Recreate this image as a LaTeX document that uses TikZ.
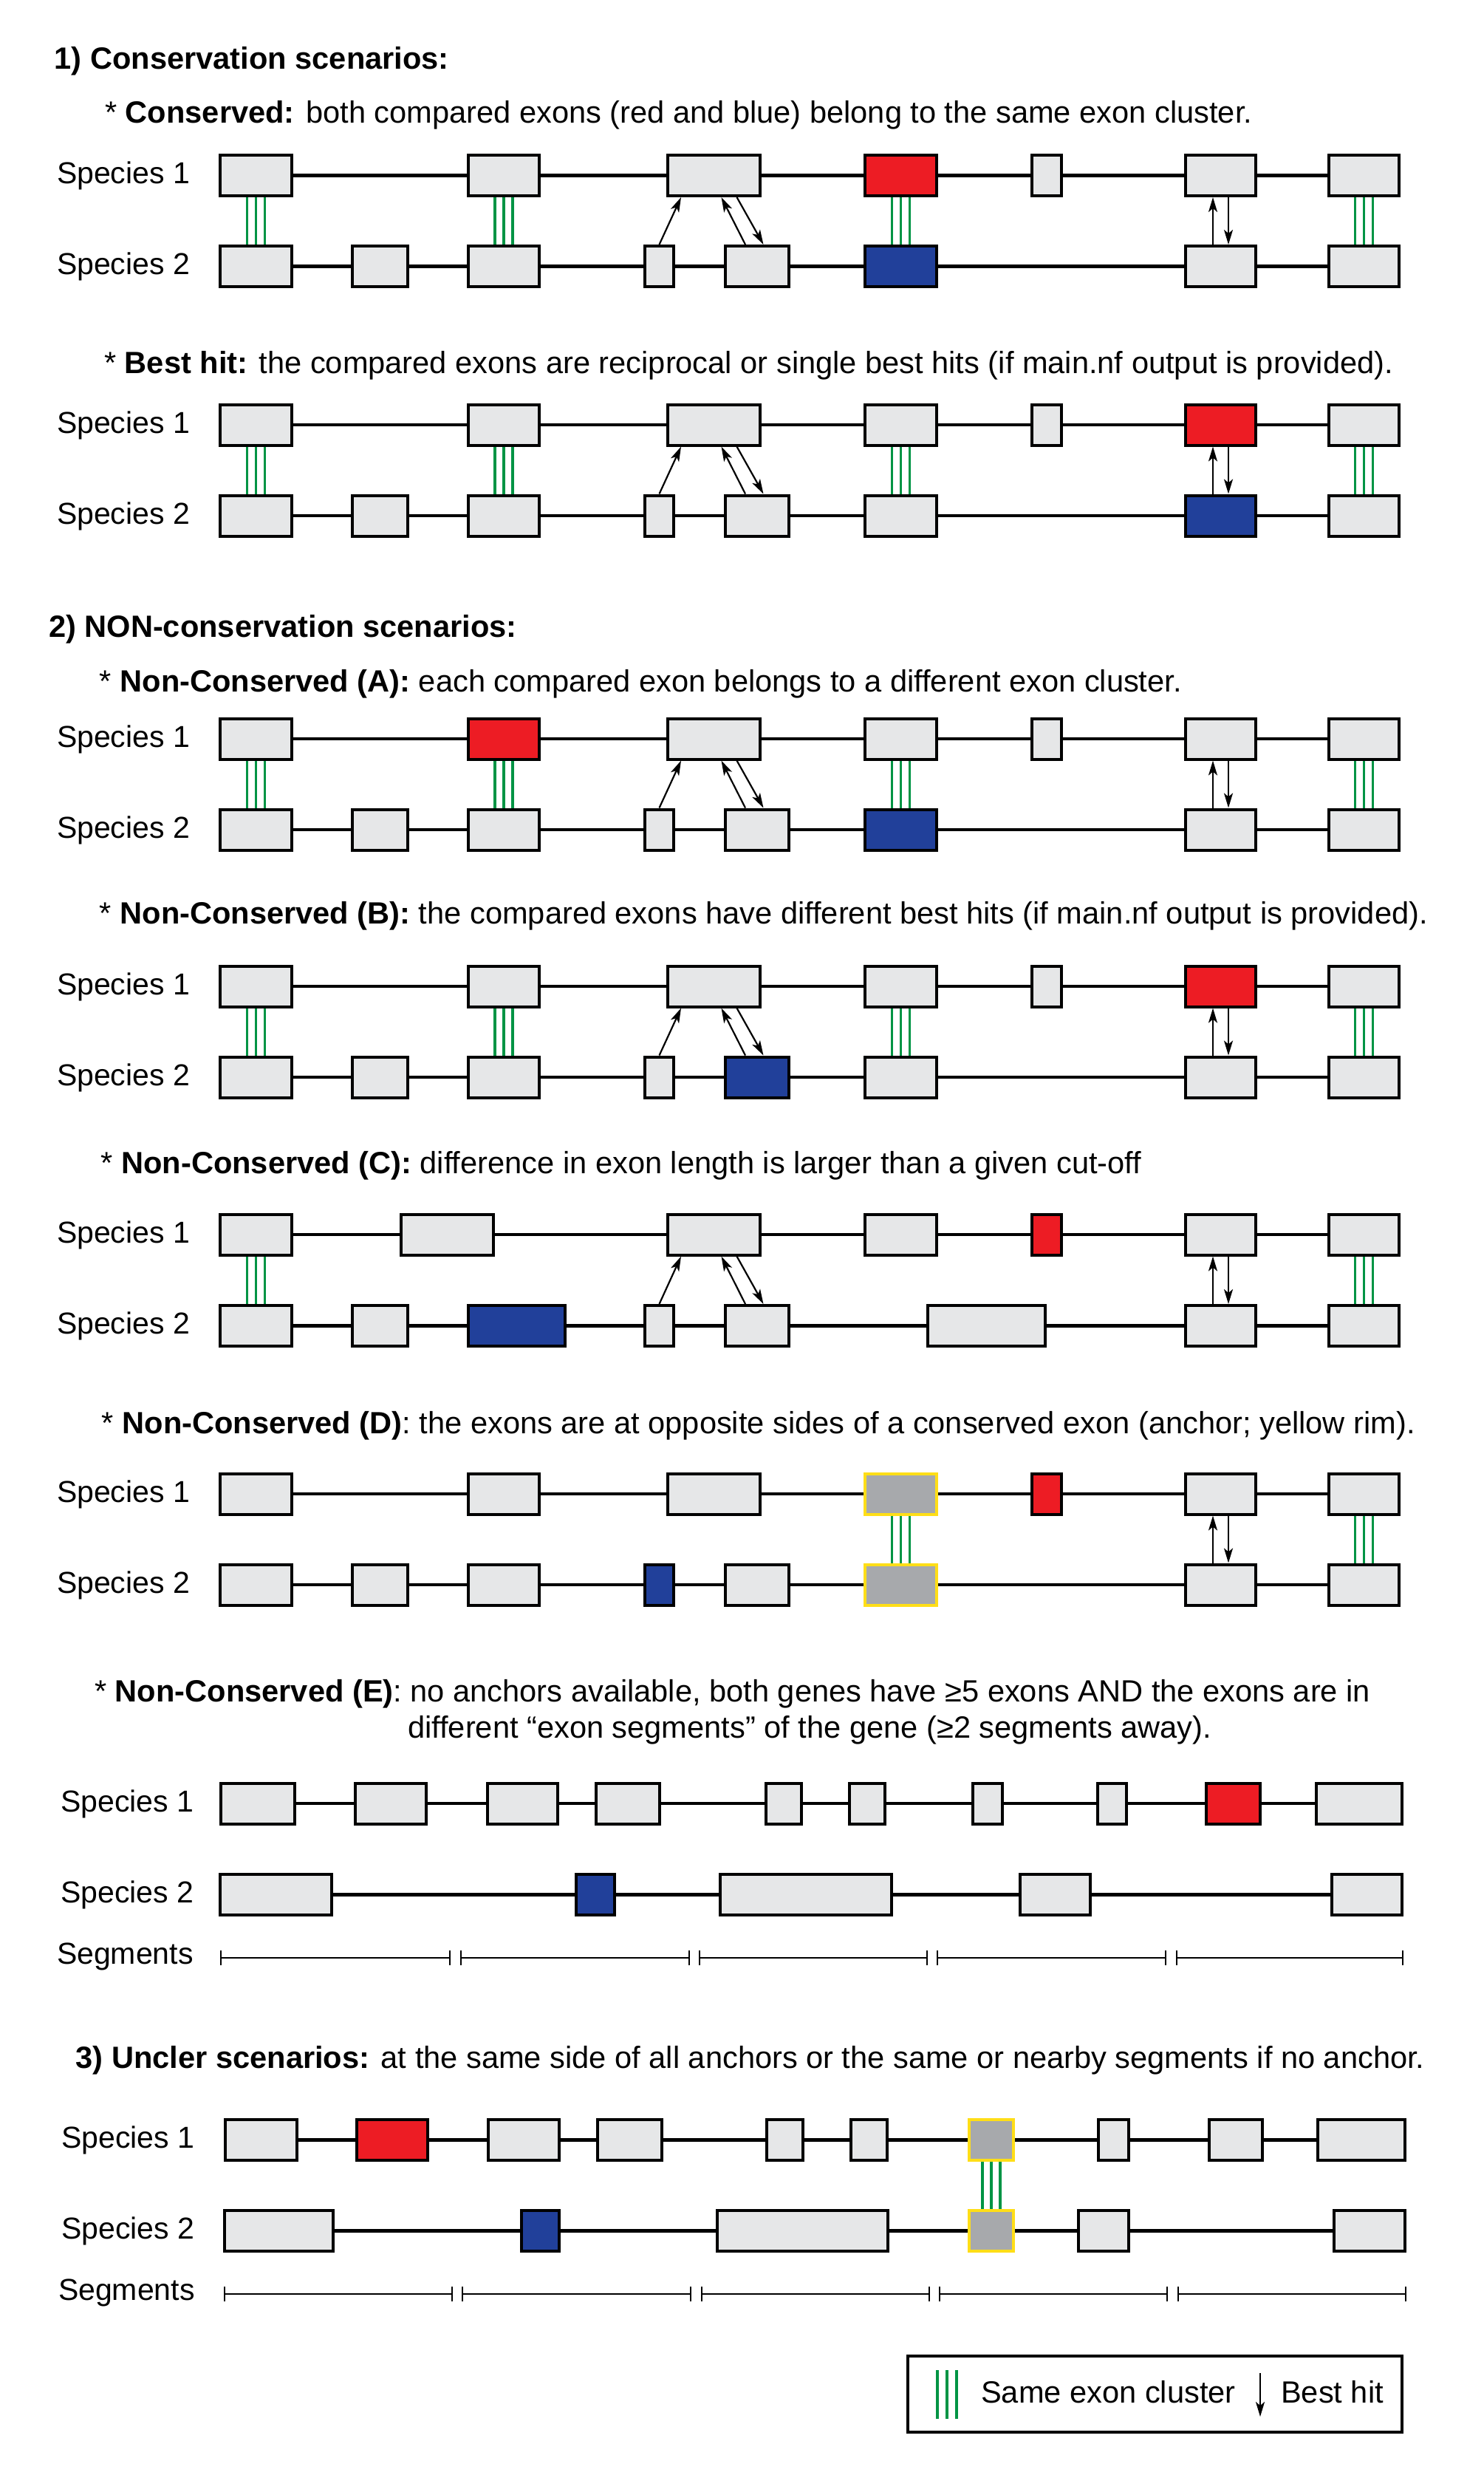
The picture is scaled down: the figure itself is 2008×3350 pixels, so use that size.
\documentclass[tikz,border=0pt]{standalone}
\usepackage{fontspec}
\setmainfont{Liberation Sans}
\usetikzlibrary{arrows.meta}
\definecolor{exgray}{HTML}{E6E7E8}
\definecolor{ancgray}{HTML}{A7A9AC}
\definecolor{exred}{HTML}{ED1C24}
\definecolor{exblue}{HTML}{21409A}
\definecolor{rim}{HTML}{FFDE17}
\definecolor{clus}{HTML}{009444}
\newcommand{\gene}[3]{%
  \foreach \xa/\xb/\st [count=\i] in {#3}{%
    \node[exon,\st,minimum width={(\xb-\xa-4)*1pt}] (#1\i) at ({(\xa+\xb)/2},#2) {};
    \ifnum\i>1
      \pgfmathtruncatemacro\j{\i-1}
      \draw[intron] (#1\j.east) -- (#1\i.west);
    \fi}}
\newcommand{\samecl}[2]{\foreach \d in {-12,0,12}{\draw[same] ([xshift=\d pt]#1.south) -- ([xshift=\d pt]#2.north);}}
\newcommand{\hitpair}[2]{%
  \draw[hit] ([xshift=-10.5pt]#2.north) -- ([xshift=-10.5pt]#1.south);
  \draw[hit] ([xshift=10.5pt]#1.south) -- ([xshift=10.5pt]#2.north);}
\newcommand{\hitfan}[3]{%
  \draw[hit] (#2.north) -- ([xshift=-44.5pt]#1.south);
  \draw[hit] ([xshift=-16pt]#3.north) -- ([xshift=10pt]#1.south);
  \draw[hit] ([xshift=31pt]#1.south) -- ([xshift=8.5pt]#3.north);}
\newcommand{\segs}[2]{\foreach \sa/\sb in {#2}{\draw[seg] (\sa,#1) -- (\sb,#1);}}
\begin{document}
\begin{tikzpicture}[x=1pt,y=-1pt,
  every node/.style={font=\fontsize{41.6}{49}\selectfont},
  lbl/.style={anchor=base west,inner sep=0pt},
  sp/.style={lbl,font=\fontsize{41}{49}\selectfont},
  exon/.style={draw,line width=4pt,fill=exgray,inner sep=0pt,minimum height=55pt},
  plain/.style={},
  hitred/.style={fill=exred},
  hitblue/.style={fill=exblue},
  anch/.style={draw=rim,fill=ancgray},
  intron/.style={line width=4.3pt},
  same/.style={clus,line width=3.6pt},
  hit/.style={-{Stealth[length=20pt,width=12pt,inset=5pt]},line width=2.2pt},
  seg/.style={line width=2.2pt,{Bar[width=20pt]}-{Bar[width=20pt]}}]
\useasboundingbox (0,0) rectangle (2008,3350);

\node[lbl] (h1) at (73.6,94) {\textbf{1) Conservation scenarios:}};
\node[lbl] (dcons) at (142,167) {* \textbf{Conserved:} both compared exons (red and blue) belong to the same exon cluster.};
\node[sp] (conss1) at (76.8,248.5) {Species 1};
\node[sp] (conss2) at (76.8,371.5) {Species 2};
\gene{consu}{237.5}{296/397/plain,632/732/plain,902/1031/plain,1169/1270/hitred,1395/1439/plain,1603/1702/plain,1797/1896/plain}
\gene{consl}{360.5}{296/397/plain,475/554/plain,632/732/plain,871/914/plain,980/1070/plain,1169/1270/hitblue,1603/1702/plain,1797/1896/plain}
\samecl{consu1}{consl1} \samecl{consu2}{consl3} \samecl{consu4}{consl6} \samecl{consu7}{consl8}
\hitfan{consu3}{consl4}{consl5} \hitpair{consu6}{consl7}

\node[lbl] (dbest) at (141,505) {* \textbf{Best hit:} the compared exons are reciprocal or single best hits (if main.nf output is provided).};
\node[sp] (bests1) at (76.8,586) {Species 1};
\node[sp] (bests2) at (76.8,709) {Species 2};
\gene{bestu}{575}{296/397/plain,632/732/plain,902/1031/plain,1169/1270/plain,1395/1439/plain,1603/1702/hitred,1797/1896/plain}
\gene{bestl}{698}{296/397/plain,475/554/plain,632/732/plain,871/914/plain,980/1070/plain,1169/1270/plain,1603/1702/hitblue,1797/1896/plain}
\samecl{bestu1}{bestl1} \samecl{bestu2}{bestl3} \samecl{bestu4}{bestl6} \samecl{bestu7}{bestl8}
\hitfan{bestu3}{bestl4}{bestl5} \hitpair{bestu6}{bestl7}

\node[lbl] (h2) at (66,862) {\textbf{2) NON-conservation scenarios:}};
\node[lbl] (dA) at (134.6,936) {* \textbf{Non-Conserved (A):} each compared exon belongs to a different exon cluster.};
\node[sp] (ncAs1) at (76.8,1011) {Species 1};
\node[sp] (ncAs2) at (76.8,1134) {Species 2};
\gene{ncAu}{1000}{296/397/plain,632/732/hitred,902/1031/plain,1169/1270/plain,1395/1439/plain,1603/1702/plain,1797/1896/plain}
\gene{ncAl}{1123}{296/397/plain,475/554/plain,632/732/plain,871/914/plain,980/1070/plain,1169/1270/hitblue,1603/1702/plain,1797/1896/plain}
\samecl{ncAu1}{ncAl1} \samecl{ncAu2}{ncAl3} \samecl{ncAu4}{ncAl6} \samecl{ncAu7}{ncAl8}
\hitfan{ncAu3}{ncAl4}{ncAl5} \hitpair{ncAu6}{ncAl7}

\node[lbl] (dB) at (134.6,1250) {* \textbf{Non-Conserved (B):} the compared exons have different best hits (if main.nf output is provided).};
\node[sp] (ncBs1) at (76.8,1346) {Species 1};
\node[sp] (ncBs2) at (76.8,1469) {Species 2};
\gene{ncBu}{1335}{296/397/plain,632/732/plain,902/1031/plain,1169/1270/plain,1395/1439/plain,1603/1702/hitred,1797/1896/plain}
\gene{ncBl}{1458}{296/397/plain,475/554/plain,632/732/plain,871/914/plain,980/1070/hitblue,1169/1270/plain,1603/1702/plain,1797/1896/plain}
\samecl{ncBu1}{ncBl1} \samecl{ncBu2}{ncBl3} \samecl{ncBu4}{ncBl6} \samecl{ncBu7}{ncBl8}
\hitfan{ncBu3}{ncBl4}{ncBl5} \hitpair{ncBu6}{ncBl7}

\node[lbl] (dC) at (136.4,1588) {* \textbf{Non-Conserved (C):} difference in exon length is larger than a given cut-off};
\node[sp] (ncCs1) at (76.8,1682) {Species 1};
\node[sp] (ncCs2) at (76.8,1805.5) {Species 2};
\gene{ncCu}{1671}{296/397/plain,541/670/plain,902/1031/plain,1169/1270/plain,1395/1439/hitred,1603/1702/plain,1797/1896/plain}
\gene{ncCl}{1794.5}{296/397/plain,475/554/plain,632/767/hitblue,871/914/plain,980/1070/plain,1254/1417/plain,1603/1702/plain,1797/1896/plain}
\samecl{ncCu1}{ncCl1} \samecl{ncCu7}{ncCl8}
\hitfan{ncCu3}{ncCl4}{ncCl5} \hitpair{ncCu6}{ncCl7}

\node[lbl] (dD) at (137.7,1940) {* \textbf{Non-Conserved (D)}: the exons are at opposite sides of a conserved exon (anchor; yellow rim).};
\node[sp] (ncDs1) at (76.8,2033) {Species 1};
\node[sp] (ncDs2) at (76.8,2156) {Species 2};
\gene{ncDu}{2022}{296/397/plain,632/732/plain,902/1031/plain,1169/1270/anch,1395/1439/hitred,1603/1702/plain,1797/1896/plain}
\gene{ncDl}{2145}{296/397/plain,475/554/plain,632/732/plain,871/914/hitblue,980/1070/plain,1169/1270/anch,1603/1702/plain,1797/1896/plain}
\samecl{ncDu4}{ncDl6} \samecl{ncDu7}{ncDl8}
\hitpair{ncDu6}{ncDl7}

\node[lbl] (dE) at (128,2303) {* \textbf{Non-Conserved (E)}: no anchors available, both genes have ≥5 exons AND the exons are in};
\node[lbl] (dE2) at (552,2352) {different “exon segments” of the gene (≥2 segments away).};
\node[sp] (ncEs1) at (82,2452) {Species 1};
\node[sp] (ncEs2) at (82,2575.5) {Species 2};
\node[sp] (ncEsg) at (76.8,2658) {Segments};
\gene{ncEu}{2441}{297/401/plain,479/579/plain,658/757/plain,805/895/plain,1035/1087/plain,1148/1200/plain,1315/1359/plain,1484/1527/plain,1631/1708/hitred,1780/1900/plain}
\gene{ncEl}{2564.5}{296/451/plain,778/834/hitblue,973/1209/plain,1379/1478/plain,1801/1900/plain}
\segs{2650}{298/610,623/934,946/1256,1268/1579,1592/1900}

\node[lbl] (h3) at (102.5,2799) {\textbf{3) Uncler scenarios:} at the same side of all anchors or the same or nearby segments if no anchor.};
\node[sp] (uncs1) at (83.2,2907.5) {Species 1};
\node[sp] (uncs2) at (83.2,3030.5) {Species 2};
\node[sp] (uncsg) at (78.8,3113) {Segments};
\gene{uncu}{2896.5}{303/404/plain,481/581/hitred,659/759/plain,807/898/plain,1036/1089/plain,1150/1203/plain,1310/1374/anch,1485/1530/plain,1635/1711/plain,1782/1904/plain}
\gene{uncl}{3019.5}{302/453/plain,704/759/hitblue,969/1204/plain,1310/1374/anch,1458/1530/plain,1804/1904/plain}
\samecl{uncu7}{uncl4}
\segs{3105}{303/613,625/936,949/1259,1271/1581,1594/1904}

\node[draw,line width=4pt,inner sep=0pt,minimum width=669pt,minimum height=103pt] (key) at (1563.5,3240.5) {};
\coordinate (keyg1) at (1282,3208);
\coordinate (keyg2) at (1282,3274);
\foreach \d in {-13,0,13}{\draw[same] ([xshift=\d pt]keyg1) -- ([xshift=\d pt]keyg2);}
\node[lbl] (keyc) at (1328,3252) {Same exon cluster};
\coordinate (keyh1) at (1706,3212);
\coordinate (keyh2) at (1706,3271);
\draw[hit] (keyh1) -- (keyh2);
\node[lbl] (keyb) at (1734,3252) {Best hit};
\end{tikzpicture}
\end{document}
